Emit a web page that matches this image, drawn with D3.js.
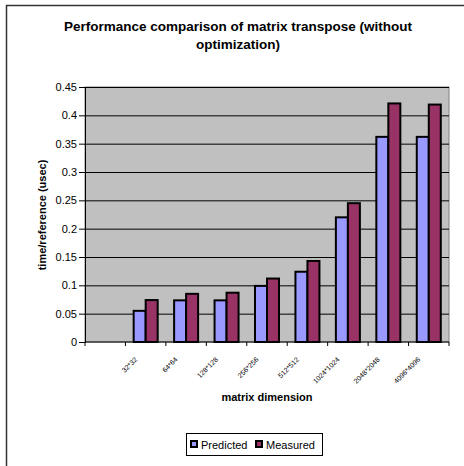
<!DOCTYPE html>
<html><head><meta charset="utf-8">
<script src="https://cdn.jsdelivr.net/npm/d3@7"></script>
<style>body{margin:0;background:#fff;} svg{display:block;font-family:"Liberation Sans",Arial,sans-serif;}</style>
</head><body>
<script>
const categories = ["", "32*32", "64*64", "128*128", "256*256", "512*512", "1024*1024", "2048*2048", "4096*4096"];
const predicted = [null, 0.055, 0.0735, 0.0735, 0.099, 0.124, 0.220, 0.362, 0.362];
const measured  = [null, 0.074, 0.085, 0.087, 0.112, 0.143, 0.245, 0.421, 0.419];
const seriesNames = ["Predicted", "Measured"];
const colors = ["#9999FF", "#993366"];
const yTicks = [0, 0.05, 0.1, 0.15, 0.2, 0.25, 0.3, 0.35, 0.4, 0.45];

const W = 464, H = 466;
const svg = d3.select("body").append("svg").attr("width", W).attr("height", H);
svg.append("rect").attr("x", 6.5).attr("y", 5.5).attr("width", W + 10).attr("height", H + 10)
  .attr("fill", "#fff").attr("stroke", "#333").attr("stroke-width", 1.5);

const m = {left: 85, right: 449, top: 87, bottom: 342};
const x = d3.scaleBand().domain(categories.map((c, i) => i)).range([m.left, m.right]).paddingInner(0).paddingOuter(0);
const x1 = d3.scaleBand().domain([0, 1]).range([0, 24]);
const y = d3.scaleLinear().domain([0, 0.45]).range([m.bottom, m.top]);

svg.append("rect").attr("x", m.left).attr("y", m.top).attr("width", m.right - m.left).attr("height", m.bottom - m.top)
  .attr("fill", "#C0C0C0").attr("stroke", "#808080").attr("stroke-width", 1);

// gridlines
svg.append("g").selectAll("line").data(yTicks.slice(1)).join("line")
  .attr("x1", m.left).attr("x2", m.right).attr("y1", d => y(d) + 0.5).attr("y2", d => y(d) + 0.5)
  .attr("stroke", "#000").attr("stroke-width", 1);

// bars
const bw = x.bandwidth();
const groups = svg.append("g").selectAll("g").data(categories.map((c, i) => i).filter(i => predicted[i] != null)).join("g")
  .attr("transform", i => `translate(${x(i) + (bw - 24) / 2},0)`);
groups.selectAll("rect").data(i => [predicted[i], measured[i]]).join("rect")
  .attr("x", (d, j) => x1(j)).attr("width", x1.bandwidth())
  .attr("y", d => y(d)).attr("height", d => y(0) - y(d))
  .attr("fill", (d, j) => colors[j]).attr("stroke", "#000").attr("stroke-width", 2);

// y axis
const yAxis = d3.axisLeft(y).tickValues(yTicks).tickSize(6).tickPadding(2).tickFormat(d => String(+d.toFixed(2)));
const ga = svg.append("g").attr("transform", `translate(${m.left},0)`).call(yAxis);
ga.select(".domain").attr("stroke", "#000");
ga.selectAll(".tick line").attr("stroke", "#000");
ga.selectAll("text").attr("font-size", 11).attr("fill", "#000").attr("font-family", "Liberation Sans, Arial");

// x axis
const xt = d3.scaleLinear().domain([0, categories.length]).range([m.left, m.right]);
const gx = svg.append("g").attr("transform", `translate(0,${m.bottom})`);
gx.append("line").attr("x1", m.left).attr("x2", m.right).attr("stroke", "#000");
gx.selectAll("line.t").data(d3.range(categories.length + 1)).join("line").attr("class", "t")
  .attr("x1", d => xt(d)).attr("x2", d => xt(d)).attr("y1", 0).attr("y2", 4).attr("stroke", "#000");
gx.selectAll("text.lbl").data(categories.map((c, i) => i)).join("text").attr("class", "lbl")
  .attr("transform", i => "translate(" + (x(i) + bw / 2 - 8) + "," + 18 + ") rotate(-45)")
  .attr("text-anchor", "end").attr("font-size", 7).attr("fill", "#000")
  .text(i => categories[i]);

// titles
const title = svg.append("text").attr("text-anchor", "middle").attr("font-weight", "bold").attr("font-size", 13.5).attr("fill", "#000");
title.append("tspan").attr("x", 238).attr("y", 31).text("Performance comparison of matrix transpose (without");
title.append("tspan").attr("x", 238).attr("y", 49).text("optimization)");

svg.append("text").attr("transform", "translate(46,215) rotate(-90)").attr("text-anchor", "middle")
  .attr("font-weight", "bold").attr("font-size", 11).text("time/reference (usec)");
svg.append("text").attr("x", 267).attr("y", 401).attr("text-anchor", "middle")
  .attr("font-weight", "bold").attr("font-size", 11).text("matrix dimension");

// legend
const lg = svg.append("g");
lg.append("rect").attr("x", 186.5).attr("y", 433.5).attr("width", 136).attr("height", 22).attr("fill", "#fff").attr("stroke", "#000");
const items = lg.selectAll("g").data(seriesNames).join("g").attr("transform", (d, i) => `translate(${191 + i * 65},441)`);
items.append("rect").attr("width", 6).attr("height", 6).attr("fill", (d, i) => colors[i]).attr("stroke", "#000").attr("stroke-width", 2);
items.append("text").attr("x", 10).attr("y", 8).attr("font-size", 11).text(d => d);
</script>
</body></html>
